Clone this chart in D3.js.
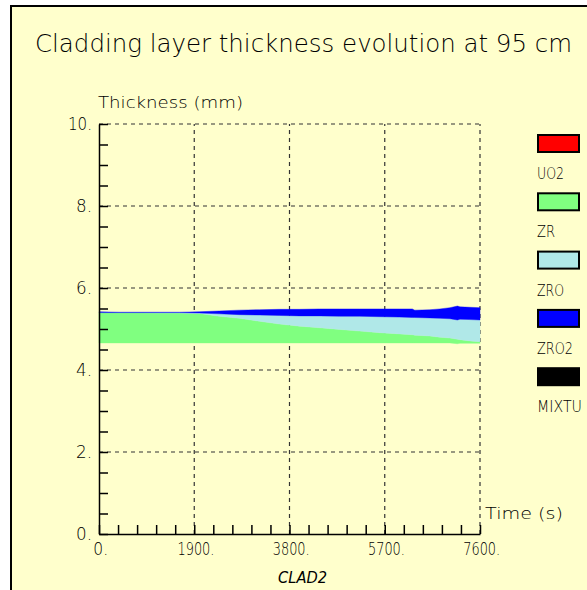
<!DOCTYPE html>
<html>
<head>
<meta charset="utf-8">
<script src="https://cdn.jsdelivr.net/npm/d3@7"></script>
<style>
  html, body { margin: 0; padding: 0; background: #ffffff; }
  svg { display: block; }
  text { font-family: "DejaVu Sans", sans-serif; font-weight: 200; fill: #000; }
</style>
</head>
<body>
<script>
// Cladding layer thickness at the 95 cm elevation (CLAD2), stacked layers
const times   = [0, 400, 800, 1200, 1600, 2000, 2400, 2800, 3200, 3600, 4000, 4400, 4800,
                 5200, 5600, 6000, 6250, 6300, 6600, 6800, 7000, 7150, 7200, 7400, 7600];
const zrBase  = [4.66, 4.66, 4.66, 4.66, 4.66, 4.66, 4.66, 4.66, 4.66, 4.66, 4.66, 4.66, 4.66,
                 4.66, 4.66, 4.66, 4.66, 4.66, 4.66, 4.66, 4.66, 4.64, 4.65, 4.65, 4.65];
const zrTop   = [5.40, 5.40, 5.40, 5.39, 5.39, 5.38, 5.31, 5.26, 5.19, 5.12, 5.07, 5.03, 4.99,
                 4.95, 4.91, 4.88, 4.86, 4.85, 4.83, 4.80, 4.78, 4.75, 4.74, 4.71, 4.69];
const zroTop  = [5.40, 5.40, 5.40, 5.40, 5.40, 5.39, 5.37, 5.35, 5.34, 5.33, 5.32, 5.32, 5.31,
                 5.31, 5.30, 5.29, 5.28, 5.28, 5.27, 5.26, 5.25, 5.22, 5.24, 5.23, 5.22];
const zro2Top = [5.42, 5.41, 5.41, 5.41, 5.41, 5.42, 5.44, 5.46, 5.47, 5.48, 5.48, 5.49, 5.49,
                 5.49, 5.49, 5.49, 5.49, 5.46, 5.47, 5.49, 5.52, 5.56, 5.54, 5.53, 5.52];

const legendNames  = ["UO2", "ZR", "ZRO", "ZRO2", "MIXTU"];
const legendColors = ["#ff0000", "#80ff80", "#b0e8e8", "#0000ff", "#000000"];

const yTickValues = [0, 2, 4, 6, 8, 10];
const yTickLabels = ["0.", "2.", "4.", "6.", "8.", "10."];
const xTickValues = [0, 1900, 3800, 5700, 7600];
const xTickLabels = ["0.", "1900.", "3800.", "5700.", "7600."];

const W = 587, H = 590;
const svg = d3.select("body").append("svg").attr("width", W).attr("height", H);

// page frame
svg.append("rect").attr("x", 11).attr("y", 6).attr("width", W - 10).attr("height", H)
  .attr("fill", "#ffffcc").attr("stroke", "#000").attr("stroke-width", 2);

const x = d3.scaleLinear().domain([0, 7600]).range([99, 480]);
const y = d3.scaleLinear().domain([0, 10]).range([534, 124]);

// title
svg.append("text").attr("x", 35).attr("y", 52).attr("font-size", 24)
  .attr("textLength", 537).attr("lengthAdjust", "spacingAndGlyphs")
  .text("Cladding layer thickness evolution at 95 cm");

// dashed grid
const grid = svg.append("g").attr("stroke", "#333").attr("stroke-width", 1.2)
  .attr("stroke-dasharray", "4,4");
grid.selectAll("line.h").data(yTickValues.filter(v => v > 0)).join("line")
  .attr("x1", x(0)).attr("x2", x(7600)).attr("y1", d => y(d)).attr("y2", d => y(d));
grid.selectAll("line.v").data(xTickValues.filter(v => v > 0)).join("line")
  .attr("y1", y(0)).attr("y2", y(10)).attr("x1", d => x(d)).attr("x2", d => x(d));

// stacked layer areas
const rows = times.map((t, i) => ({ t, b: zrBase[i], zr: zrTop[i], zro: zroTop[i], zro2: zro2Top[i] }));
const layers = [
  { lo: "b",   hi: "zr",   color: legendColors[1] },
  { lo: "zr",  hi: "zro",  color: legendColors[2] },
  { lo: "zro", hi: "zro2", color: legendColors[3] }
];
layers.forEach(L => {
  const area = d3.area().x(d => x(d.t)).y0(d => y(d[L.lo])).y1(d => y(d[L.hi]));
  svg.append("path").datum(rows).attr("d", area).attr("fill", L.color)
    .attr("stroke", L.color).attr("stroke-width", 0.4);
});

// axes with minor ticks
const yAxis = d3.axisRight(y).tickValues(d3.range(0, 10.01, 0.5)).tickSize(9)
  .tickSizeOuter(0).tickFormat("");
svg.append("g").attr("transform", `translate(${x(0)},0)`).call(yAxis)
  .call(g => g.selectAll("line,path").attr("stroke", "#000").attr("stroke-width", 1.5));
const xAxis = d3.axisTop(x).tickValues(d3.range(0, 7601, 380)).tickSize(9)
  .tickSizeOuter(0).tickFormat("");
svg.append("g").attr("transform", `translate(0,${y(0)})`).call(xAxis)
  .call(g => g.selectAll("line,path").attr("stroke", "#000").attr("stroke-width", 1.5));

// tick labels
const yCh = 8;
svg.selectAll("text.yl").data(yTickValues).join("text").attr("class", "yl")
  .attr("font-size", 17)
  .attr("x", (d, i) => 92 - yTickLabels[i].length * yCh)
  .attr("y", d => y(d) + 6)
  .attr("textLength", (d, i) => yTickLabels[i].length * yCh)
  .attr("lengthAdjust", "spacingAndGlyphs")
  .text((d, i) => yTickLabels[i]);
const xCh = 7.4;
svg.selectAll("text.xl").data(xTickValues).join("text").attr("class", "xl")
  .attr("font-size", 17)
  .attr("x", (d, i) => x(d) - (xTickLabels[i].length - 1) * xCh / 2 - 2)
  .attr("y", 555)
  .attr("textLength", (d, i) => xTickLabels[i].length * xCh)
  .attr("lengthAdjust", "spacingAndGlyphs")
  .text((d, i) => xTickLabels[i]);

// axis titles and caption
svg.append("text").attr("x", 98).attr("y", 108).attr("font-size", 16)
  .attr("textLength", 145).attr("lengthAdjust", "spacingAndGlyphs").text("Thickness (mm)");
svg.append("text").attr("x", 485).attr("y", 519).attr("font-size", 16)
  .attr("textLength", 78).attr("lengthAdjust", "spacingAndGlyphs").text("Time (s)");
svg.append("text").attr("x", 278).attr("y", 583).attr("font-size", 15)
  .attr("font-style", "italic")
  .attr("textLength", 49).attr("lengthAdjust", "spacingAndGlyphs").text("CLAD2");

// legend
const lg = svg.append("g");
legendNames.forEach((name, i) => {
  const top = 135 + i * 58.3;
  lg.append("rect").attr("x", 538).attr("y", top).attr("width", 41).attr("height", 17)
    .attr("fill", legendColors[i]).attr("stroke", "#000").attr("stroke-width", 2);
  lg.append("text").attr("x", 537).attr("y", top + 44).attr("font-size", 16)
    .attr("textLength", name.length * 9).attr("lengthAdjust", "spacingAndGlyphs")
    .text(name);
});
</script>
</body>
</html>
